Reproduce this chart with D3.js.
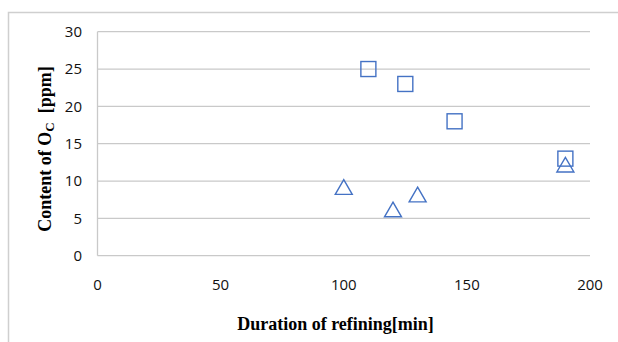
<!DOCTYPE html>
<html>
<head>
<meta charset="utf-8">
<script src="https://cdn.jsdelivr.net/npm/d3@7"></script>
<style>
  body { margin: 0; background: #fff; }
  svg { display: block; }
</style>
</head>
<body>
<svg></svg>
<script>
// oxygen content vs refining time, two series (squares / triangles)
let width = 618, height = 342;

let squareX = [110, 125, 145, 190];
let squareY = [25, 23, 18, 13];
let triangleX = [100, 120, 130, 190];
let triangleY = [9, 6, 8, 12];

let xTicks = [0, 50, 100, 150, 200];
let yTicks = [0, 5, 10, 15, 20, 25, 30];

let blue = "#4472c4";
let gridColor = "#c9c9c9";

let svg = d3.select("svg")
  .attr("width", width)
  .attr("height", height);

// outer chart frame (only top + left visible in the crop)
svg.append("path")
  .attr("d", "M8.5,342 L8.5,12.5 L618,12.5")
  .attr("fill", "none")
  .attr("stroke", "#cfcfcf")
  .attr("stroke-width", 1.5);

let x = d3.scaleLinear().domain([0, 200]).range([97.5, 590]);
let y = d3.scaleLinear().domain([0, 30]).range([255.7, 31.7]);

// horizontal gridlines
svg.append("g")
  .selectAll("line")
  .data(yTicks)
  .enter()
  .append("line")
  .attr("x1", x(0))
  .attr("x2", x(200))
  .attr("y1", d => y(d))
  .attr("y2", d => y(d))
  .attr("stroke", gridColor)
  .attr("stroke-width", 1.3);

// left axis line
svg.append("line")
  .attr("x1", x(0)).attr("x2", x(0))
  .attr("y1", y(0)).attr("y2", y(30))
  .attr("stroke", gridColor)
  .attr("stroke-width", 1.3);

let tickFont = "'Open Sans', sans-serif";

svg.append("g")
  .selectAll("text")
  .data(yTicks)
  .enter()
  .append("text")
  .attr("x", 82)
  .attr("y", d => y(d))
  .attr("dy", "0.36em")
  .attr("text-anchor", "end")
  .style("font-family", tickFont)
  .style("font-size", "15px")
  .attr("fill", "#111")
  .text(d => d);

svg.append("g")
  .selectAll("text")
  .data(xTicks)
  .enter()
  .append("text")
  .attr("x", d => x(d))
  .attr("y", 289.5)
  .attr("text-anchor", "middle")
  .style("font-family", tickFont)
  .style("font-size", "15px")
  .attr("fill", "#111")
  .text(d => d);

// axis titles
svg.append("text")
  .attr("x", 335.5)
  .attr("y", 330)
  .attr("text-anchor", "middle")
  .style("font-family", "'Liberation Serif', 'Times New Roman', serif")
  .style("font-weight", "bold")
  .style("font-size", "18px")
  .text("Duration of refining[min]");

let yTitle = svg.append("text")
  .attr("transform", "translate(51,149) rotate(-90)")
  .attr("text-anchor", "middle")
  .style("font-family", "'Liberation Serif', 'Times New Roman', serif")
  .style("font-weight", "bold")
  .style("font-size", "18px");
yTitle.append("tspan").text("Content of O");
yTitle.append("tspan").attr("dy", 3).style("font-size", "13px").text("C");
yTitle.append("tspan").attr("dy", -3).text("\u00a0 [ppm]");

// markers
let squares = squareX.map((v, i) => ({x: v, y: squareY[i]}));
let triangles = triangleX.map((v, i) => ({x: v, y: triangleY[i]}));

svg.append("g")
  .selectAll("rect")
  .data(squares)
  .enter()
  .append("rect")
  .attr("x", d => x(d.x) - 7.5)
  .attr("y", d => y(d.y) - 7.5)
  .attr("width", 15)
  .attr("height", 15)
  .attr("fill", "none")
  .attr("stroke", blue)
  .attr("stroke-width", 1.4);

let tri = d3.symbol().type(d3.symbolTriangle).size(125);
svg.append("g")
  .selectAll("path")
  .data(triangles)
  .enter()
  .append("path")
  .attr("d", tri)
  .attr("transform", d => "translate(" + x(d.x) + "," + (y(d.y) + 1) + ")")
  .attr("fill", "none")
  .attr("stroke", blue)
  .attr("stroke-width", 1.4);
</script>
</body>
</html>
